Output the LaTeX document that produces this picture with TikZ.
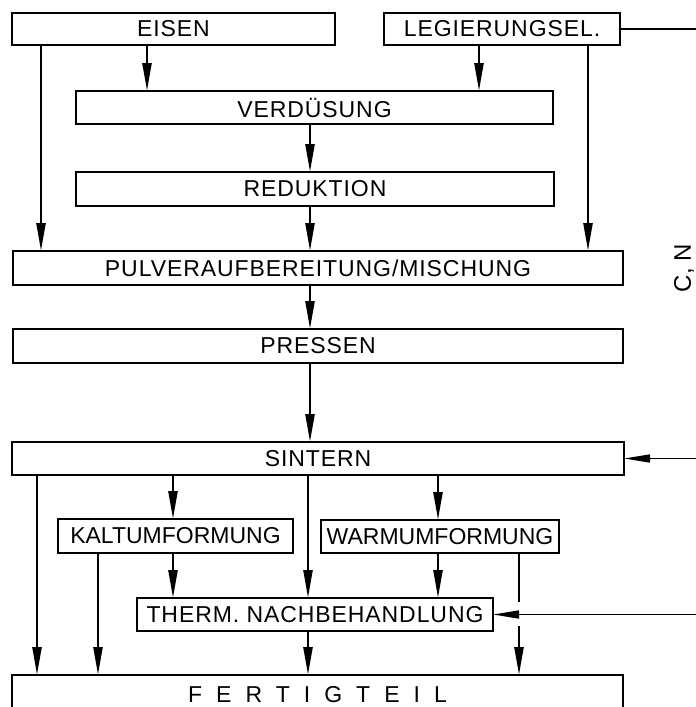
\documentclass[tikz,border=0pt]{standalone}
\usepackage{fontspec}
\setmainfont{Liberation Sans}
\usetikzlibrary{arrows.meta}
\tikzset{
  box/.style={draw, line width=1.3pt, inner sep=0pt, outer sep=0pt,
    font=\fontsize{23}{23}\selectfont\addfontfeature{LetterSpace=4}},
  tight/.style={font=\fontsize{23}{23}\selectfont},
  arr/.style={line width=2.4pt, -{Triangle[length=28pt,width=9pt]}},
  plainline/.style={line width=2.4pt},
  sideline/.style={line width=1.6pt},
  sidearr/.style={line width=1.6pt, -{Triangle[length=26pt,width=8pt]}},
}
\begin{document}
\begin{tikzpicture}[x=1pt,y=-1pt]
\useasboundingbox (0,0) rectangle (696,707);
\clip (0,0) rectangle (696,707);

% boxes
\node[box, minimum width=323pt, minimum height=32pt] (eisen) at (173.5,29) {EISEN};
\node[box, minimum width=236pt, minimum height=32pt] (leg) at (502,29) {LEGIERUNGSEL.};
\node[box, minimum width=477pt, minimum height=33pt] (verd) at (314.5,107.5) {VERDÜSUNG};
\node[box, minimum width=478pt, minimum height=34pt] (red) at (315,189) {REDUKTION};
\node[box, minimum width=610pt, minimum height=34pt] (pulv) at (318,268) {PULVERAUFBEREITUNG/MISCHUNG};
\node[box, minimum width=610pt, minimum height=34pt] (press) at (318,346) {PRESSEN};
\node[box, minimum width=612pt, minimum height=33pt] (sint) at (318,458.5) {SINTERN};
\node[box, tight, minimum width=235pt, minimum height=34pt] (kalt) at (175.5,536) {KALTUMFORMUNG};
\node[box, tight, minimum width=238pt, minimum height=33pt] (warm) at (440,536.5) {WARMUMFORMUNG};
\node[box, minimum width=356pt, minimum height=33pt] (therm) at (315,614.5) {THERM. NACHBEHANDLUNG};
\node[box, font=\fontsize{23}{23}\selectfont\addfontfeature{LetterSpace=61}, minimum width=611pt, minimum height=40pt] (fert) at (317.5,695) {FERTIGTEIL};

\node[rotate=90, font=\fontsize{24}{24}\selectfont] (cn) at (684,268) {C, N};

% column coordinates
\coordinate (c41) at (41,0);
\coordinate (c147) at (147,0);
\coordinate (c479) at (479,0);
\coordinate (c588) at (588,0);
\coordinate (c310) at (310,0);
\coordinate (c37) at (37,0);
\coordinate (c173) at (173,0);
\coordinate (c308) at (308,0);
\coordinate (c438) at (438,0);
\coordinate (c98) at (98,0);
\coordinate (c519) at (519,0);

% top part
\draw[arr] (eisen.south -| c147) -- (verd.north -| c147);
\draw[arr] (leg.south -| c479) -- (verd.north -| c479);
\draw[arr] (eisen.south -| c41) -- (pulv.north -| c41);
\draw[arr] (leg.south -| c588) -- (pulv.north -| c588);
\draw[arr] (verd.south -| c310) -- (red.north -| c310);
\draw[arr] (red.south -| c310) -- (pulv.north -| c310);
\draw[arr] (pulv.south -| c310) -- (press.north -| c310);
\draw[arr] (press.south -| c310) -- (sint.north -| c310);

% below sintern
\draw[arr] (sint.south -| c37) -- (fert.north -| c37);
\draw[arr] (sint.south -| c173) -- (kalt.north -| c173);
\draw[arr] (sint.south -| c308) -- (therm.north -| c308);
\draw[arr] (sint.south -| c438) -- (warm.north -| c438);
\draw[arr] (kalt.south -| c98) -- (fert.north -| c98);
\draw[arr] (kalt.south -| c173) -- (therm.north -| c173);
\draw[arr] (warm.south -| c438) -- (therm.north -| c438);
\draw[arr] (therm.south -| c308) -- (fert.north -| c308);
\coordinate (b1) at (519,602);
\coordinate (b2) at (519,626);
\draw[plainline] (warm.south -| c519) -- (b1);
\draw[arr] (b2) -- (fert.north -| c519);

% right side lines
\coordinate (r1) at (700,29);
\coordinate (r2) at (700,458.5);
\coordinate (r3) at (700,614.5);
\draw[sideline] (leg.east) -- (r1);
\draw[sidearr] (r2) -- (sint.east);
\draw[sidearr] (r3) -- (therm.east);
\end{tikzpicture}
\end{document}
